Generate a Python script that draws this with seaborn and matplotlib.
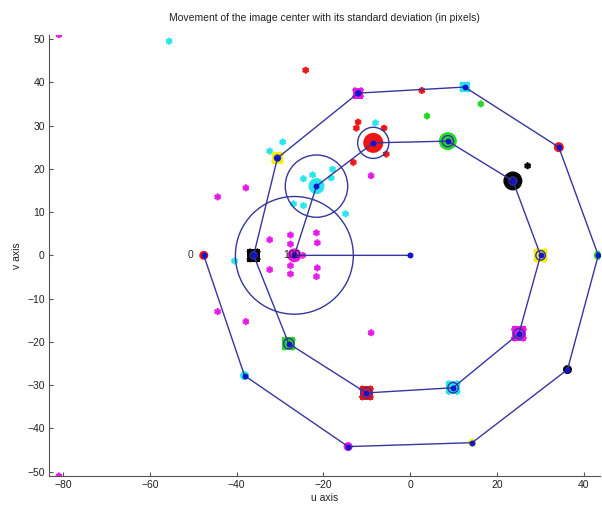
import matplotlib
matplotlib.use("Agg")
import matplotlib.pyplot as plt
from matplotlib.patches import Circle
import numpy as np
import pandas as pd
import seaborn as sns

# ==============================================================================
# DATA (units = pixels)
# ==============================================================================
# mean image centre at every step of the sequence, last one is the optical axis
STEP_U = [-47.6, -38.2, -14.3, 14.3, 36.3, 43.4, 34.3, 12.6, -12.0, -30.6,
          -36.1, -28.0, -10.1, 9.9, 25.1, 30.1, 23.7, 8.7, -8.5, -21.6,
          -26.7, 0.0]
STEP_V = [0.0, -27.8, -44.2, -43.3, -26.4, 0.0, 25.0, 38.9, 37.5, 22.5,
          0.0, -20.4, -31.8, -30.6, -18.1, 0.0, 17.2, 26.4, 26.0, 16.0,
          0.0, 0.0]
# standard deviation of the centre at every step
STEP_STD = [0.3, 0.3, 0.3, 0.3, 0.3, 0.3, 0.4, 0.5, 0.6, 0.7,
            0.8, 1.2, 1.2, 1.2, 1.2, 1.1, 0.9, 1.3, 3.6, 7.2,
            13.6, 0.0]
STEP_COLOR = ["r", "c", "m", "y", "k", "g"] * 3 + ["r", "c", "m", "b"]

# single measurements lying away from their mean
SPOT_U = [-81.0, -81.0, -55.6, -24.1, -12.0, -12.4, -6.0, -5.5, -13.1, 2.7,
          -8.0, -29.4, -32.4, -24.6, -22.5, -17.9, -18.2, -26.9, -24.6, -14.9,
          -40.5, -32.4, -27.6, -27.6, -21.6, -21.4, -32.4, -27.6, -27.6, -21.4,
          -21.6, -44.4, -37.9, -9.0, -44.4, -37.9, -9.0, 3.9, 16.3, 27.1,
          -24.8, -21.3]
SPOT_V = [51.0, -51.0, 49.5, 42.8, 30.8, 29.4, 29.4, 23.4, 21.5, 38.1,
          30.6, 26.2, 24.1, 17.7, 18.6, 19.9, 17.9, 11.9, 11.5, 9.6,
          -1.3, 3.6, 4.7, 2.6, 5.2, 2.9, -3.3, -2.4, -4.3, -2.9,
          -4.9, 13.5, 15.6, 18.4, -13.0, -15.3, -17.9, 32.2, 35.0, 20.7,
          0.0, 15.4]
SPOT_STEP = [20, 20, 19, 18, 18, 18, 18, 18, 18, 18,
             19, 19, 19, 19, 19, 19, 19, 19, 19, 19,
             19, 20, 20, 20, 20, 20, 20, 20, 20, 20,
             20, 20, 20, 20, 20, 20, 20, 17, 17, 16,
             20, 19]

LABEL_STEPS = [0, 20]
LABEL_TEXT = ["0", "100"]

# ==============================================================================
# STYLE
# ==============================================================================
MATLAB_RGB = {
    "r": "#ee1414", "c": "#28e4ee", "m": "#e818e8", "y": "#f4ee18",
    "k": "#050505", "g": "#28d828", "b": "#1414cc",
}
LINE_COLOR = "#36369e"
# blob diameter (px) and marker shape for the dense cloud of every step
BLOB_PX = [9, 9, 9, 8, 9, 9, 10, 11, 12, 13,
           14, 14, 15, 15, 16, 15, 19, 18, 20, 16,
           14, 5]
BLOB_MARK = ["o"] * 7 + ["s"] * 9 + ["o"] * 6

sns.set_style("ticks", {"xtick.direction": "in", "ytick.direction": "in"})
plt.rcParams["font.family"] = ["Liberation Sans", "DejaVu Sans"]
plt.rcParams["axes.edgecolor"] = "#555555"
plt.rcParams["xtick.color"] = "#555555"
plt.rcParams["ytick.color"] = "#555555"
plt.rcParams["xtick.labelcolor"] = "#222222"
plt.rcParams["ytick.labelcolor"] = "#222222"


def main():

    steps = pd.DataFrame({
        "u": STEP_U,
        "v": STEP_V,
        "std": STEP_STD,
        "color": [MATLAB_RGB[c] for c in STEP_COLOR],
        "blob": BLOB_PX,
        "mark": BLOB_MARK,
    })
    spots = pd.DataFrame({
        "u": SPOT_U,
        "v": SPOT_V,
        "color": [MATLAB_RGB[STEP_COLOR[s]] for s in SPOT_STEP],
    })

    fig = plt.figure(figsize=(6.02, 5.08), dpi=100)
    ax = fig.add_axes([49 / 602, 32 / 508, 551 / 602, 441.3 / 508])

    # single outlying measurements
    sns.scatterplot(
        data=spots, x="u", y="v", c=spots["color"], marker="o",
        s=24, linewidth=0, alpha=0.7, ax=ax, legend=False, zorder=2
    )
    sns.scatterplot(
        data=spots, x="u", y="v", c=spots["color"], marker=(6, 2, 0),
        s=16, linewidth=0.9, ax=ax, legend=False, zorder=2
    )

    # dense clouds of every step
    for mark, grp in steps.groupby("mark"):
        scale = 0.9 if mark == "s" else 1.0
        sns.scatterplot(
            data=grp, x="u", y="v", c=grp["color"], marker=mark,
            s=(grp["blob"] * 0.72 * scale) ** 2, linewidth=0, ax=ax,
            legend=False, zorder=3
        )
        if mark == "s":
            # the corner lobes of the square clouds
            sns.scatterplot(
                data=grp, x="u", y="v", c=grp["color"], marker="X",
                s=(grp["blob"] * 0.72 * 1.05) ** 2, linewidth=0, ax=ax,
                legend=False, zorder=3
            )

    # path of the mean centre
    sns.lineplot(
        data=steps, x="u", y="v", sort=False, estimator=None,
        color=LINE_COLOR, linewidth=1.0, ax=ax, zorder=4
    )

    # standard deviation circles
    for _, row in steps.iterrows():
        if row["std"] > 0.5:
            ax.add_patch(Circle(
                (row["u"], row["v"]), row["std"], fill=False,
                edgecolor=LINE_COLOR, linewidth=1.0, zorder=4
            ))

    # mean markers
    sns.scatterplot(
        data=steps, x="u", y="v", color="#1414cc", marker="o", s=18,
        linewidth=0, ax=ax, legend=False, zorder=5
    )

    ax.text(steps["u"][LABEL_STEPS[0]] - 2.5, steps["v"][LABEL_STEPS[0]],
            LABEL_TEXT[0], ha="right", va="center", fontsize=7.5,
            color="#333333", zorder=6)
    ax.text(steps["u"][LABEL_STEPS[1]] - 0.6, steps["v"][LABEL_STEPS[1]],
            LABEL_TEXT[1], ha="center", va="center", fontsize=7.5,
            color="#2a1a2a", zorder=6)

    ax.set_xlim(-83.3, 43.8)
    ax.set_ylim(-51.0, 51.0)
    ax.set_xticks(np.arange(-80, 41, 20))
    ax.set_yticks(np.arange(-50, 51, 10))
    ax.tick_params(labelsize=7.5, length=3, width=0.8, pad=3)
    sns.despine(ax=ax)

    ax.set_xlabel("u axis", fontsize=7.5, labelpad=2, color="#222222")
    ax.set_ylabel("v axis", fontsize=7.5, labelpad=4, color="#222222")
    ax.set_title(
        "Movement of the image center with its standard deviation (in pixels)",
        fontsize=7.5, pad=10, color="#222222"
    )

    fig.savefig("out.png", dpi=100)
    plt.close(fig)


if __name__ == "__main__":
    main()
